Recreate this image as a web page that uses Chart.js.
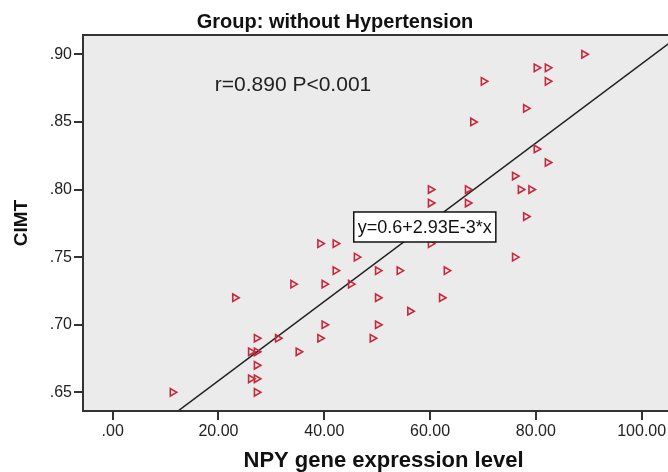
<!DOCTYPE html>
<html>
<head>
<meta charset="utf-8">
<script src="https://cdn.jsdelivr.net/npm/chart.js@4.4.1/dist/chart.umd.min.js"></script>
<style>
    html, body { margin: 0; padding: 0; background: #fff; overflow: hidden; }
    #wrap { width: 684px; height: 472px; }
</style>
</head>
<body>
<div id="wrap"><canvas id="scatterChart" width="684" height="472"></canvas></div>
<script>
// NPY 유전자 발현량(x)과 CIMT(y) - 고혈압 없는 그룹
const npyLevel = [
    89.1, 80.1, 82.2, 70.1, 82.2, 78.1, 68.1, 80.1, 82.2, 76.0,
    60.1, 67.1, 77.1, 79.1, 60.1, 67.1, 78.1, 39.2, 42.1, 60.1,
    46.1, 76.0, 42.1, 50.1, 54.2, 63.1, 34.1, 40.0, 45.0, 23.1,
    50.1, 62.2, 56.2, 40.0, 50.1, 27.2, 31.2, 39.2, 49.1, 26.1,
    27.2, 35.1, 27.2, 26.1, 27.2, 27.2, 11.3
];
const cimt = [
    0.90, 0.89, 0.89, 0.88, 0.88, 0.86, 0.85, 0.83, 0.82, 0.81,
    0.80, 0.80, 0.80, 0.80, 0.79, 0.79, 0.78, 0.76, 0.76, 0.76,
    0.75, 0.75, 0.74, 0.74, 0.74, 0.74, 0.73, 0.73, 0.73, 0.72,
    0.72, 0.72, 0.71, 0.70, 0.70, 0.69, 0.69, 0.69, 0.69, 0.68,
    0.68, 0.68, 0.67, 0.66, 0.66, 0.65, 0.65
];

// 축 눈금
const xTicks = [0, 20, 40, 60, 80, 100];
const yTicks = [0.65, 0.70, 0.75, 0.80, 0.85, 0.90];
const xRange = [-5.61, 108.0];
const yRange = [0.6362, 0.9143];

// 회귀식 y = 0.6 + 2.93E-3 * x
const fitIntercept = 0.6;
const fitSlope = 2.93e-3;

const FONT = '"Liberation Sans", Arial, sans-serif';

// 플롯 배경, 테두리, 제목과 주석 텍스트
const plotFrame = {
    id: 'plotFrame',
    beforeDraw(chart) {
        const { ctx, chartArea: a } = chart;
        ctx.save();
        ctx.fillStyle = '#ebebeb';
        ctx.fillRect(a.left, a.top, a.right - a.left, a.bottom - a.top);
        ctx.restore();
    },
    afterDraw(chart) {
        const { ctx, chartArea: a, scales } = chart;
        ctx.save();
        ctx.strokeStyle = '#333';
        ctx.lineWidth = 2;
        ctx.strokeRect(a.left, a.top, a.right - a.left, a.bottom - a.top);

        ctx.fillStyle = '#111';
        ctx.font = 'bold 20px ' + FONT;
        ctx.textAlign = 'center';
        ctx.textBaseline = 'alphabetic';
        ctx.fillText('Group: without Hypertension', 335, 28);

        ctx.fillStyle = '#222';
        ctx.font = '21px ' + FONT;
        ctx.textAlign = 'left';
        ctx.fillText('r=0.890 P<0.001', scales.x.getPixelForValue(19.3), scales.y.getPixelForValue(0.8729));

        // 회귀식 라벨 박스
        const label = 'y=' + fitIntercept + '+2.93E-3*x';
        ctx.font = '18px ' + FONT;
        const w = ctx.measureText(label).width;
        const cx = scales.x.getPixelForValue(59.0);
        const cy = scales.y.getPixelForValue(0.7723);
        ctx.fillStyle = '#fff';
        ctx.fillRect(cx - w / 2 - 4, cy - 15, w + 8, 30);
        ctx.strokeStyle = '#111';
        ctx.lineWidth = 1.5;
        ctx.strokeRect(cx - w / 2 - 4, cy - 15, w + 8, 30);
        ctx.fillStyle = '#111';
        ctx.textAlign = 'center';
        ctx.textBaseline = 'middle';
        ctx.fillText(label, cx, cy + 1);
        ctx.restore();
    }
};

const points = npyLevel.map((x, i) => ({ x: x, y: cimt[i] }));
const fitLine = xRange.map(x => ({ x: x, y: fitIntercept + fitSlope * x }));

const dropLeadingZero = v => Number(v).toFixed(2).replace(/^0/, '');

new Chart(document.getElementById('scatterChart'), {
    type: 'scatter',
    data: {
        datasets: [
            {
                data: points,
                pointStyle: 'triangle',
                rotation: 90,
                radius: 4.3,
                borderWidth: 1.6,
                borderColor: '#c8283a',
                backgroundColor: 'rgba(0,0,0,0)'
            },
            {
                type: 'line',
                data: fitLine,
                borderColor: '#222',
                borderWidth: 1.5,
                pointRadius: 0,
                fill: false
            }
        ]
    },
    plugins: [plotFrame],
    options: {
        responsive: false,
        animation: false,
        events: [],
        layout: { padding: { top: 35, right: 0, bottom: 0, left: 0 }, autoPadding: false },
        plugins: {
            legend: { display: false },
            title: { display: false },
            tooltip: { enabled: false }
        },
        scales: {
            x: {
                type: 'linear',
                min: xRange[0],
                max: xRange[1],
                afterBuildTicks: axis => { axis.ticks = xTicks.map(v => ({ value: v })); },
                afterFit: scale => { scale.height = 61; },
                border: { display: false },
                grid: { drawOnChartArea: false, drawTicks: true, tickLength: 9, color: '#333', lineWidth: 2 },
                ticks: {
                    padding: 2,
                    color: '#222',
                    font: { family: FONT, size: 16 },
                    maxRotation: 0,
                    callback: dropLeadingZero
                },
                title: {
                    display: true,
                    text: 'NPY gene expression level',
                    color: '#111',
                    font: { family: FONT, size: 22, weight: 'bold', lineHeight: 1.0 },
                    padding: { top: 0, bottom: 0 }
                }
            },
            y: {
                type: 'linear',
                min: yRange[0],
                max: yRange[1],
                afterBuildTicks: axis => { axis.ticks = yTicks.map(v => ({ value: v })); },
                afterFit: scale => { scale.width = 83; },
                border: { display: false },
                grid: { drawOnChartArea: false, drawTicks: true, tickLength: 9, color: '#333', lineWidth: 2 },
                ticks: {
                    padding: 2,
                    color: '#222',
                    font: { family: FONT, size: 16 },
                    callback: dropLeadingZero
                },
                title: {
                    display: true,
                    text: 'CIMT',
                    color: '#111',
                    font: { family: FONT, size: 19, weight: 'bold', lineHeight: 1.0 },
                    padding: { top: 12, bottom: 0 }
                }
            }
        }
    }
});
</script>
</body>
</html>
